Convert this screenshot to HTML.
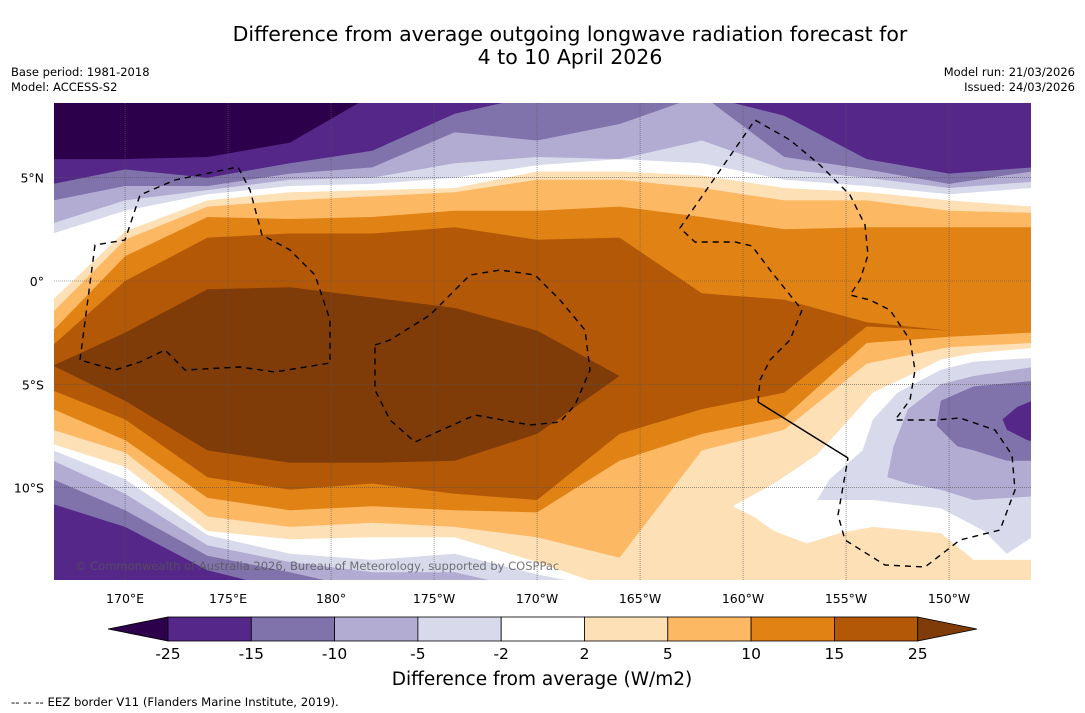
<!DOCTYPE html>
<html><head><meta charset="utf-8">
<style>
body{margin:0;background:#fff;font-family:"DejaVu Sans",sans-serif;}
svg{display:block}
text{font-family:"DejaVu Sans",sans-serif;}
</style></head>
<body>
<svg id="chart" width="1085" height="713" viewBox="0 0 1085 713">
<rect width="1085" height="713" fill="#fff"/>
<text x="570" y="41" text-anchor="middle" font-size="20.5">Difference from average outgoing longwave radiation forecast for</text>
<text x="570" y="64" text-anchor="middle" font-size="20.5">4 to 10 April 2026</text>
<text x="11" y="76" font-size="11.5">Base period: 1981-2018</text>
<text x="11" y="91" font-size="11.5">Model: ACCESS-S2</text>
<text x="1075" y="76" font-size="11.5" text-anchor="end">Model run: 21/03/2026</text>
<text x="1075" y="91" font-size="11.5" text-anchor="end">Issued: 24/03/2026</text>
<defs><clipPath id="mapclip"><rect x="54" y="103" width="977" height="477"/></clipPath></defs>
<g id="map" clip-path="url(#mapclip)">
<rect x="54" y="103" width="977" height="477" fill="#fff"/>
</g>
<g id="axes"></g>
<g id="cbar"></g>
<text x="542" y="685" text-anchor="middle" font-size="18.5">Difference from average (W/m2)</text>
<text x="11" y="706" font-size="11.7">--  --  -- EEZ border V11 (Flanders Marine Institute, 2019).</text>
</svg>
<script>
// ---- data ----
const lons = [166.5,170,174,178,182,186,190,194,198,202,206,210,214];
// northern negative regions (area north of line is <= level)
const n2  = [2.3,3.4,4.2,4.6,4.7,5.0,5.6,5.9,5.7,4.9,4.6,4.2,4.5];
const n5  = [2.8,3.9,4.4,4.9,5.0,5.7,6.0,5.9,6.8,5.4,5.0,4.5,4.8];
const n10 = [3.9,4.6,4.6,5.2,5.5,7.2,6.8,7.6,9,6.0,5.4,4.7,5.3];
const n15 = [4.7,5.4,5.0,5.7,6.3,8.1,9,9,9,8.0,5.9,5.2,5.5];
const n25 = [5.9,5.9,6.0,6.7,9,9,9,9,9,9,9,9,9];
// southern negative regions (area south of line is <= level)
const s2  = [-8.2,-9.6,-12.3,-13.2,-13.5,-13.2,-14.2,-15,-15,-15,-15,-15,-15];
const s5  = [-8.7,-10.3,-12.8,-13.6,-14.1,-14.1,-15,-15,-15,-15,-15,-15,-15];
const s10 = [-9.6,-11.1,-13.3,-14.1,-15,-15,-15,-15,-15,-15,-15,-15,-15];
const s15 = [-10.8,-11.9,-14.0,-15,-15,-15,-15,-15,-15,-15,-15,-15,-15];
// positive bands: top and bottom lat
const p2top = [-0.9,2.4,3.9,4.3,4.4,4.5,5.3,5.3,5.1,4.5,4.3,3.9,3.6];
const p2bot = [-7.9,-9.0,-12.1,-12.5,-12.4,-12.4,-13.6,-15,-15,-15,-15,-15,-15];
const p5top = [-1.5,2.0,3.6,3.9,4.1,4.3,4.9,4.9,4.5,3.9,3.9,3.4,3.3];
const p5bot = [-7.2,-8.3,-11.4,-11.9,-11.7,-11.9,-12.4,-13.4,-8.2,-7.2,-4.0,-3.2,-3.0];
const p10top = [-2.4,1.2,3.1,3.0,3.1,3.4,3.4,3.6,3.1,2.5,2.6,2.6,2.6];
const p10bot = [-6.2,-7.7,-10.5,-11.1,-10.9,-11.1,-11.2,-8.7,-7.4,-6.6,-3.0,-2.7,-2.5];
const p15top = [-3.1,0.0,2.1,2.3,2.3,2.6,2.0,2.1,-0.6,-0.9,-2.0,-2.4,-2.4];
const p15bot = [-5.3,-6.7,-9.5,-10.1,-9.8,-10.3,-10.6,-7.4,-6.2,-5.4,-2.2,-2.4,-2.4];
const p25top = [-4.1,-2.5,-0.4,-0.3,-0.8,-1.3,-2.4,-4.6,-4.6,-4.6,-4.6,-4.6,-4.6];
const p25bot = [-4.1,-5.8,-8.2,-8.8,-8.8,-8.7,-7.4,-4.6,-4.6,-4.6,-4.6,-4.6,-4.6];
// south-east blob [lon,lat]
const seWhite = [[199.5,-10.9],[201.5,-9.8],[203.6,-8.4],[204.7,-7.2],[206.3,-5.4],[208.0,-4.6],[209.6,-3.8],[211.2,-3.5],[214.5,-3.2],[214.5,-13.5],[211.2,-13.5],[209.6,-12.2],[206.3,-11.9],[204.7,-12.2],[203.1,-12.7],[201.5,-12.1],[200.5,-11.4]];
const seM2  = [[203.6,-10.6],[204.2,-9.6],[205.8,-8.2],[206.3,-6.7],[207.5,-5.4],[209.6,-4.3],[211.2,-3.9],[214.5,-3.7],[214.5,-12.1],[212.8,-13.2],[211.7,-12.1],[209.6,-11.0],[206.3,-10.6],[204.7,-10.6]];
const seM5  = [[207.0,-9.5],[207.3,-8.0],[208.0,-6.2],[209.6,-5.0],[211.2,-4.6],[214.5,-4.1],[214.5,-10.4],[211.2,-10.6],[209.6,-10.1],[208.0,-9.8]];
const seM10 = [[209.4,-7.0],[209.6,-5.8],[211.2,-5.1],[214.5,-4.8],[214.5,-8.7],[212.8,-8.7],[211.2,-8.2],[210.4,-8.0]];
const seM15 = [[212.6,-6.7],[213.3,-6.1],[214.5,-5.6],[214.5,-7.9],[213.8,-7.7],[212.8,-7.2]];
const lonTicks = [170,175,180,185,190,195,200,205,210];
const lonLabels = ["170°E","175°E","180°","175°W","170°W","165°W","160°W","155°W","150°W"];
const latTicks = [5,0,-5,-10];
const latLabels = ["5°N","0°","5°S","10°S"];
const cbLevels = ["-25","-15","-10","-5","-2","2","5","10","15","25"];
const cbColors = ["#542788","#8073ac","#b2abd2","#d8daeb","#ffffff","#fee0b6","#fdb863","#e08214","#b35806"];
// ---- axes ----
const X = lon => 54 + (lon - 166.55) * 20.6;
const Y = lat => 281 - lat * 20.66;
const NS = "http://www.w3.org/2000/svg";
const C = {m25:"#2d004b",m15:"#542788",m10:"#8073ac",m5:"#b2abd2",m2:"#d8daeb",w:"#ffffff",p2:"#fee0b6",p5:"#fdb863",p10:"#e08214",p15:"#b35806",p25:"#7f3b08"};
const map = document.getElementById('map');
function poly(pts, fill, name){
  const p = document.createElementNS(NS,'polygon');
  p.setAttribute('points', pts.map(q=>X(q[0]).toFixed(1)+','+Y(q[1]).toFixed(1)).join(' '));
  p.setAttribute('fill', fill);
  
  
  map.appendChild(p);
}
function north(arr, fill, name){
  const pts = lons.map((l,i)=>[l,arr[i]]);
  pts.push([lons[lons.length-1],10]); pts.push([lons[0],10]);
  poly(pts, fill, name);
}
function south(arr, fill, name){
  const pts = lons.map((l,i)=>[l,arr[i]]);
  pts.push([lons[lons.length-1],-16]); pts.push([lons[0],-16]);
  poly(pts, fill, name);
}
function band(top, bot, fill, name){
  const pts = lons.map((l,i)=>[l,top[i]]);
  for(let i=lons.length-1;i>=0;i--) pts.push([lons[i],bot[i]]);
  poly(pts, fill, name);
}
north(n2,C.m2,'north-contour-minus2'); north(n5,C.m5,'north-contour-minus5'); north(n10,C.m10,'north-contour-minus10'); north(n15,C.m15,'north-contour-minus15'); north(n25,C.m25,'north-contour-minus25');
south(s2,C.m2,'south-contour-minus2'); south(s5,C.m5,'south-contour-minus5'); south(s10,C.m10,'south-contour-minus10'); south(s15,C.m15,'south-contour-minus15');
band(p2top,p2bot,C.p2,'contour-plus2'); band(p5top,p5bot,C.p5,'contour-plus5'); band(p10top,p10bot,C.p10,'contour-plus10'); band(p15top,p15bot,C.p15,'contour-plus15'); band(p25top,p25bot,C.p25,'contour-plus25');
poly(seWhite,C.w,'southeast-neutral-region'); poly(seM2,C.m2,'southeast-contour-minus2'); poly(seM5,C.m5,'southeast-contour-minus5'); poly(seM10,C.m10,'southeast-contour-minus10'); poly(seM15,C.m15,'southeast-contour-minus15');
// gridlines
lonTicks.forEach((l,i)=>{
  const g=document.createElementNS(NS,'line');
  g.setAttribute('x1',X(l)); g.setAttribute('x2',X(l)); g.setAttribute('y1',103); g.setAttribute('y2',580);
  g.setAttribute('stroke','#555'); g.setAttribute('stroke-width','0.6'); g.setAttribute('stroke-dasharray','1,1');
   
  map.appendChild(g);
});
latTicks.forEach((l,i)=>{
  const g=document.createElementNS(NS,'line');
  g.setAttribute('x1',54); g.setAttribute('x2',1031); g.setAttribute('y1',Y(l)); g.setAttribute('y2',Y(l));
  g.setAttribute('stroke','#555'); g.setAttribute('stroke-width','0.6'); g.setAttribute('stroke-dasharray','1,1');
   
  map.appendChild(g);
});
// EEZ borders (map decoration)
const eez = [
 "M80,360 L95,245 L125,240 L140,195 L175,180 L238,167 L250,190 L262,235 L290,250 L315,275 L330,320 L330,363 L275,372 L240,367 L185,370 L165,350 L140,362 L115,370 Z",
 "M375,345 L390,340 L430,315 L470,275 L500,270 L535,275 L560,300 L585,330 L590,370 L575,405 L560,422 L530,425 L475,415 L415,442 L390,420 L375,390 Z",
 "M758,402 L760,380 L770,360 L790,340 L802,310 L770,270 L752,246 L735,242 L695,242 L680,228 L755,120 L790,140 L820,165 L850,195 L865,225 L868,255 L860,280 L850,295 L870,300 L890,310 L910,340 L915,370 L910,400 L895,420 L935,420 L960,418 L995,430 L1012,455 L1015,490 L1000,530 L960,540 L925,567 L885,565 L845,540 L838,515 L848,458"
];
eez.forEach(d=>{
  const p=document.createElementNS(NS,'path');
  p.setAttribute('d',d); p.setAttribute('fill','none'); p.setAttribute('stroke','#000'); p.setAttribute('stroke-width','1.4'); p.setAttribute('stroke-dasharray','6,5');
   
  map.appendChild(p);
});
const sol=document.createElementNS(NS,'path');
sol.setAttribute('d','M758,402 L848,458'); sol.setAttribute('stroke','#000'); sol.setAttribute('stroke-width','1.4');
 
map.appendChild(sol);
const cp=document.createElementNS(NS,'text');
cp.setAttribute('x',75); cp.setAttribute('y',570); cp.setAttribute('font-size','11.5'); cp.setAttribute('fill','#555'); cp.setAttribute('fill-opacity','0.8');
cp.textContent='© Commonwealth of Australia 2026, Bureau of Meteorology, supported by COSPPac';
 
map.appendChild(cp);
// tick labels
const axes=document.getElementById('axes');
lonTicks.forEach((l,i)=>{
  const t=document.createElementNS(NS,'text');
  t.setAttribute('x',X(l)); t.setAttribute('y',603); t.setAttribute('text-anchor','middle'); t.setAttribute('font-size','12.5');
  t.textContent=lonLabels[i];
   
  axes.appendChild(t);
});
latTicks.forEach((l,i)=>{
  const t=document.createElementNS(NS,'text');
  t.setAttribute('x',44); t.setAttribute('y',Y(l)+5); t.setAttribute('text-anchor','end'); t.setAttribute('font-size','12.5');
  t.textContent=latLabels[i];
   
  axes.appendChild(t);
});
// colorbar
const cb=document.getElementById('cbar');
const cbX0=168, cbW=83.3, cbY=617, cbH=24;
const lt=document.createElementNS(NS,'polygon');
lt.setAttribute('points',`108,${cbY+cbH/2} ${cbX0},${cbY} ${cbX0},${cbY+cbH}`); lt.setAttribute('fill',C.m25); lt.setAttribute('stroke','#000'); lt.setAttribute('stroke-width','0.8');
 
cb.appendChild(lt);
cbColors.forEach((c,i)=>{
  const r=document.createElementNS(NS,'rect');
  r.setAttribute('x',cbX0+i*cbW); r.setAttribute('y',cbY); r.setAttribute('width',cbW); r.setAttribute('height',cbH);
  r.setAttribute('fill',c); r.setAttribute('stroke','#000'); r.setAttribute('stroke-width','0.8');
   
  cb.appendChild(r);
});
const xe=cbX0+cbColors.length*cbW;
const rt=document.createElementNS(NS,'polygon');
rt.setAttribute('points',`${xe},${cbY} 977,${cbY+cbH/2} ${xe},${cbY+cbH}`); rt.setAttribute('fill',C.p25); rt.setAttribute('stroke','#000'); rt.setAttribute('stroke-width','0.8');
 
cb.appendChild(rt);
cbLevels.forEach((v,i)=>{
  const t=document.createElementNS(NS,'text');
  t.setAttribute('x',cbX0+i*cbW); t.setAttribute('y',659); t.setAttribute('text-anchor','middle'); t.setAttribute('font-size','15.5');
  t.textContent=v;
   
  cb.appendChild(t);
});
</script>
</body></html>
